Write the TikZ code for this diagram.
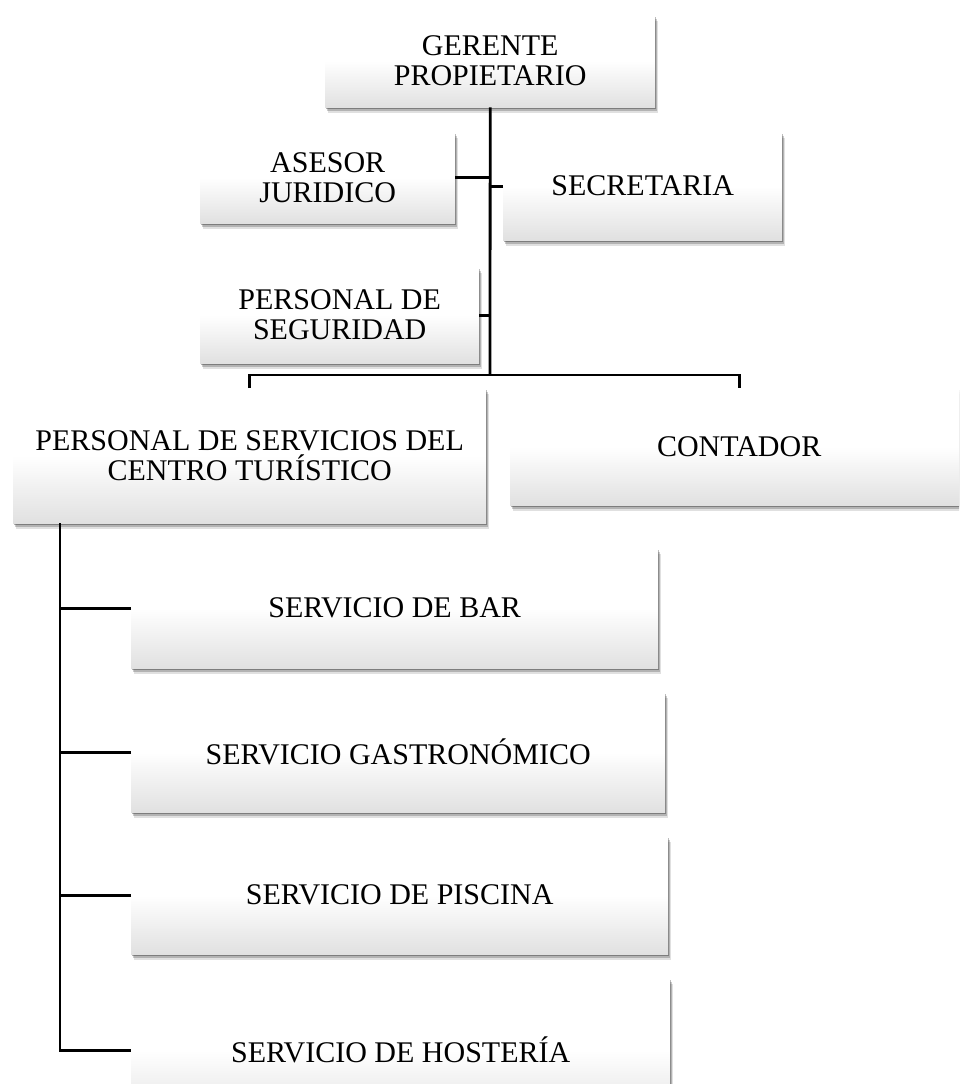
\documentclass[tikz,border=0pt]{standalone}
\usepackage{fontspec}
\setmainfont{Liberation Serif}
\usetikzlibrary{positioning,shadows}

\begin{document}
\begin{tikzpicture}[x=1pt, y=-1pt,
    unit/.style={anchor=north west, inner sep=0pt, align=center, font=\fontsize{30}{30}\selectfont,
      top color=white, bottom color=black!12, middle color=white,
      drop shadow={shadow xshift=2.5pt, shadow yshift=-6pt, opacity=.12, fill=black},
      drop shadow={shadow xshift=1.5pt, shadow yshift=-4pt, opacity=.2, fill=black},
      drop shadow={shadow xshift=1pt, shadow yshift=-2pt, opacity=.3, fill=black}},
    link/.style={line width=2.8pt}]
  \useasboundingbox (0,0) rectangle (959,1084);
  \clip (0,0) rectangle (959,1084);
  \node[unit, minimum width=330pt, minimum height=92pt]  (ger) at (325,15)  {GERENTE\\PROPIETARIO};
  \node[unit, minimum width=255pt, minimum height=91pt]  (ase) at (200,132) {ASESOR\\JURIDICO};
  \node[unit, minimum width=279pt, minimum height=108pt] (sec) at (503,132) {SECRETARIA};
  \node[unit, minimum width=279pt, minimum height=96pt]  (seg) at (200,267) {PERSONAL DE\\SEGURIDAD};
  \node[unit, minimum width=473pt, minimum height=135pt] (ps)  at (13,388)  {PERSONAL DE SERVICIOS DEL\\CENTRO TURÍSTICO};
  \node[unit, minimum width=458pt, minimum height=117pt] (con) at (510,388) {CONTADOR};
  \node[unit, minimum width=527pt, minimum height=120pt] (bar) at (131,548) {SERVICIO DE BAR};
  \node[unit, minimum width=534pt, minimum height=120pt] (gas) at (131,692) {SERVICIO GASTRONÓMICO};
  \node[unit, minimum width=537pt, minimum height=118pt] (pis) at (131,836) {SERVICIO DE PISCINA};
  \node[unit, minimum width=539pt, minimum height=144pt] (hos) at (131,978) {SERVICIO DE HOSTERÍA};
  % lines
  \coordinate (bus) at (490,375);
  \coordinate (spine) at (60,523);
  \draw[link] (ger.south) -- (bus);
  \draw[link] (ase.east) -- (ase.east -| bus);
  \draw[link] (sec.west) -- (sec.west -| bus);
  \draw[link] (seg.east) -- (seg.east -| bus);
  \draw[link] (ps.north) |- (bus) -| (con.north);
  \draw[link] (spine) |- (hos.west);
  \foreach \s in {bar, gas, pis} { \draw[link] (\s.west) -- (\s.west -| spine); }
\end{tikzpicture}
\end{document}
